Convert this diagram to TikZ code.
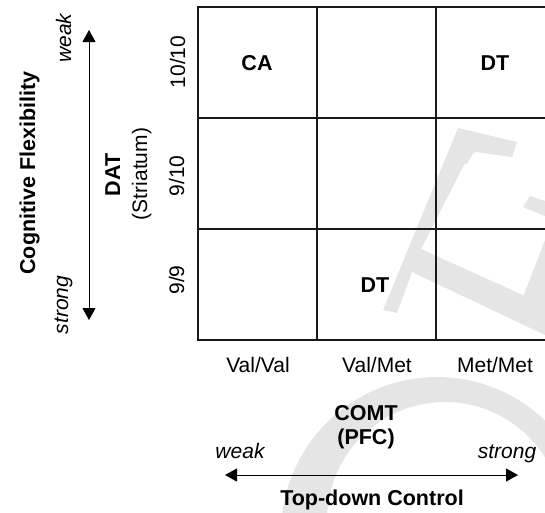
\documentclass[tikz,border=0pt]{standalone}
\usepackage{fontspec}
\setmainfont{Liberation Sans}
\usetikzlibrary{arrows.meta}
\begin{document}
\begin{tikzpicture}[x=1pt,y=-1pt,
  lbl/.style={inner sep=0pt,font=\fontsize{21}{24}\selectfont},
  blbl/.style={lbl,font=\fontsize{21.5}{24}\selectfont\bfseries},
  ilbl/.style={lbl,font=\fontsize{21}{24}\selectfont\itshape},
  gridline/.style={line width=1.3pt,black!90},
  wmark/.style={fill=black!10,draw=none},
  dirarrow/.style={line width=1pt,{Triangle[width=13pt,length=12pt]}-{Triangle[width=13pt,length=12pt]}}]
\useasboundingbox (0,0) rectangle (545,512);
\begin{scope}
\clip (0,0) rectangle (545,512);
% faint watermark
\fill[wmark] plot[domain=180:345,samples=60] ({437+156*cos(\x)},{533+156*sin(\x)})
  -- plot[domain=345:180,samples=60] ({445+118*cos(\x)},{520+118*sin(\x)}) -- cycle;
\fill[wmark] (383,310) -- (458,128) -- (517,142) -- (512,157) -- (476,152)
  to[out=190,in=-65] (465,163) -- (421,249) -- (545,305) -- (545,335) -- (412,272) -- (397,313) -- cycle;
\fill[wmark] (523,207) -- (530,196) -- (545,201) -- (545,216) -- cycle;
\fill[wmark] (523,297) -- (545,240) -- (545,308) -- cycle;
% grid
\draw[gridline] (198,7) rectangle (555,340);
\draw[gridline] (317,7) -- (317,340) (436,7) -- (436,340)
  (198,118) -- (555,118) (198,229) -- (555,229);
\end{scope}
% cell texts
\node[blbl,anchor=base] (ca) at (257,70) {CA};
\node[blbl,anchor=base] (dt1) at (495,70) {DT};
\node[blbl,anchor=base] (dt2) at (375,292) {DT};
% column labels
\node[lbl,anchor=base] (vv) at (258,372) {Val/Val};
\node[lbl,anchor=base] (vm) at (377,372) {Val/Met};
\node[lbl,anchor=base] (mm) at (495,372) {Met/Met};
\node[blbl,anchor=base] (comt) at (366,420) {COMT};
\node[blbl,anchor=base] (pfc) at (366,444) {(PFC)};
\node[ilbl,anchor=base] (hweak) at (240,458) {weak};
\node[ilbl,anchor=base] (hstrong) at (507,458) {strong};
\coordinate (hl) at (225,475);
\coordinate (hr) at (518,475);
\draw[dirarrow] (hl) -- (hr);
\node[blbl,anchor=base] (tdc) at (372,505) {Top-down Control};
% row labels
\node[lbl,anchor=base,rotate=90] (r1) at (185,62) {10/10};
\node[lbl,anchor=base,rotate=90] (r2) at (184,176) {9/10};
\node[lbl,anchor=base,rotate=90] (r3) at (184,280) {9/9};
\node[blbl,anchor=base,rotate=90] (dat) at (120,175) {DAT};
\node[lbl,anchor=base,rotate=90] (str) at (147,174) {(Striatum)};
\node[ilbl,anchor=base,rotate=90] (vweak) at (71,38) {weak};
\node[ilbl,anchor=base,rotate=90] (vstrong) at (68,305) {strong};
\coordinate (vt) at (89,30);
\coordinate (vb) at (89,320);
\draw[dirarrow] (vb) -- (vt);
\node[blbl,anchor=base,rotate=90] (cf) at (35,173) {Cognitive Flexibility};
\end{tikzpicture}
\end{document}
